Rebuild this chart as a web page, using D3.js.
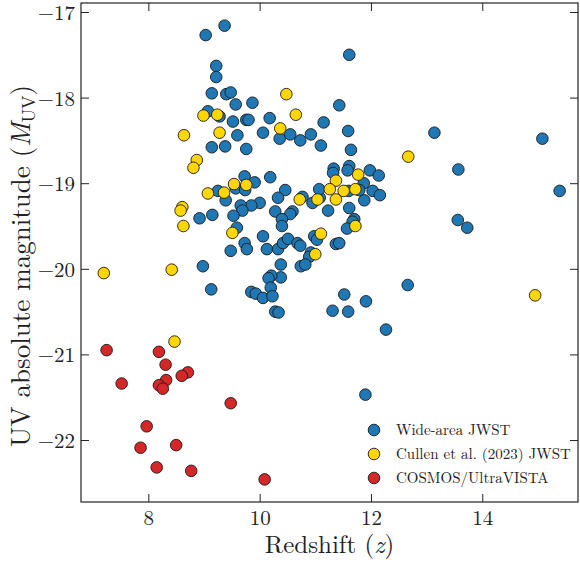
<!DOCTYPE html>
<html>
<head>
<meta charset="utf-8">
<script src="https://cdn.jsdelivr.net/npm/d3@7"></script>
<style>
  html, body { margin: 0; padding: 0; background: #fff; }
  svg text { font-family: "Latin Modern Roman", "CMU Serif", "Liberation Serif", serif; fill: #222; }
</style>
</head>
<body>
<div id="chart"></div>
<script>
// Wide-area JWST  [redshift, M_UV]
const wideArea = [
  [9.37,-17.16],[9.03,-17.27],[11.61,-17.50],[9.22,-17.63],[9.22,-17.76],[9.14,-17.95],
  [9.40,-17.96],[9.48,-17.94],[9.57,-18.08],[9.87,-18.06],[11.43,-18.09],[9.07,-18.16],
  [9.28,-18.22],[9.52,-18.28],[9.76,-18.26],[9.80,-18.26],[10.18,-18.24],[11.15,-18.29],
  [9.60,-18.44],[10.06,-18.41],[10.36,-18.48],[10.55,-18.43],[10.73,-18.50],[10.92,-18.43],
  [11.10,-18.56],[11.59,-18.39],[11.64,-18.61],[9.14,-18.58],[9.38,-18.57],[9.76,-18.60],
  [11.33,-18.83],[11.32,-18.88],[11.61,-18.80],[11.58,-18.85],[11.98,-18.85],[12.14,-18.91],
  [11.87,-19.00],[12.03,-19.09],[12.16,-19.14],[11.88,-19.20],[9.73,-18.92],[9.91,-18.99],
  [10.19,-18.93],[9.57,-19.06],[9.74,-19.08],[9.25,-19.09],[9.39,-19.20],[10.46,-19.08],
  [10.33,-19.17],[10.77,-19.16],[10.95,-19.23],[11.08,-19.17],[11.07,-19.07],[11.60,-19.09],
  [11.79,-19.08],[10.00,-19.23],[9.85,-19.26],[9.66,-19.26],[9.69,-19.32],[9.53,-19.38],
  [8.92,-19.41],[9.15,-19.37],[9.59,-19.52],[10.28,-19.33],[10.59,-19.33],[10.55,-19.36],
  [10.40,-19.42],[10.40,-19.50],[11.23,-19.32],[11.61,-19.29],[11.70,-19.42],[11.67,-19.45],
  [11.57,-19.53],[10.06,-19.62],[9.73,-19.70],[9.77,-19.77],[9.48,-19.79],[10.13,-19.77],
  [10.33,-19.77],[10.42,-19.70],[10.51,-19.65],[10.68,-19.70],[10.73,-19.73],[10.98,-19.62],
  [11.03,-19.66],[11.37,-19.71],[11.43,-19.70],[10.92,-19.81],[10.89,-19.86],[10.74,-19.97],
  [10.82,-19.95],[8.98,-19.97],[10.38,-19.95],[10.38,-20.10],[10.21,-20.08],[10.16,-20.11],
  [10.20,-20.22],[9.13,-20.24],[9.85,-20.27],[9.93,-20.29],[10.06,-20.34],[10.23,-20.32],
  [10.28,-20.50],[10.34,-20.51],[11.31,-20.49],[11.59,-20.50],[11.52,-20.30],[11.91,-20.38],
  [12.66,-20.19],[12.27,-20.71],[11.90,-21.47],[13.14,-18.41],[15.08,-18.48],[13.57,-18.84],
  [15.39,-19.09],[13.56,-19.43],[13.73,-19.52]
];

// Cullen et al. (2023) JWST
const cullen = [
  [10.48,-17.96],[10.65,-18.20],[8.99,-18.21],[9.24,-18.20],[9.28,-18.41],[10.37,-18.36],
  [8.64,-18.44],[8.87,-18.73],[8.81,-18.82],[11.77,-18.90],[11.37,-18.97],[11.26,-19.07],
  [11.51,-19.09],[11.72,-19.07],[9.54,-19.01],[9.76,-19.02],[9.07,-19.12],[9.36,-19.11],
  [10.72,-19.19],[11.04,-19.19],[11.37,-19.19],[8.61,-19.28],[8.58,-19.32],[8.63,-19.50],
  [9.51,-19.58],[11.72,-19.50],[11.10,-19.59],[11.00,-19.83],[7.20,-20.05],[8.42,-20.01],
  [8.47,-20.85],[12.67,-18.69],[14.95,-20.31]
];

// COSMOS/UltraVISTA
const cosmos = [
  [7.25,-20.95],[8.19,-20.97],[8.31,-21.12],[8.71,-21.21],[8.60,-21.25],[8.32,-21.30],
  [8.19,-21.36],[8.26,-21.40],[7.52,-21.34],[9.48,-21.57],[7.97,-21.84],[7.86,-22.09],
  [8.50,-22.06],[8.15,-22.32],[8.77,-22.36],[10.09,-22.46]
];

const seriesNames = ['Wide-area JWST', 'Cullen et al. (2023) JWST', 'COSMOS/UltraVISTA'];
const seriesColors = ['#1f77b4', '#ffd700', '#d62728'];
const xTicks = [8, 10, 12, 14];
const yTicks = [-17, -18, -19, -20, -21, -22];

const width = 580, height = 563;
const margin = { top: 3, right: 2, bottom: 61, left: 81 };
const innerW = width - margin.left - margin.right;
const innerH = height - margin.top - margin.bottom;

const svg = d3.select('#chart').append('svg')
  .attr('width', width)
  .attr('height', height);

const g = svg.append('g')
  .attr('transform', `translate(${margin.left},${margin.top})`);

const x = d3.scaleLinear().domain([6.79, 15.72]).range([0, innerW]);
const y = d3.scaleLinear().domain([-16.895, -22.724]).range([0, innerH]);

const fmt = d => (d < 0 ? '\u2212' + Math.abs(d) : d);
const tickLen = 8;

// axes with inward ticks on all four sides
const xAxis = g.append('g').attr('transform', `translate(0,${innerH})`)
  .call(d3.axisBottom(x).tickValues(xTicks).tickFormat(fmt).tickSizeInner(-tickLen).tickSizeOuter(0).tickPadding(8));
const xTop = g.append('g')
  .call(d3.axisTop(x).tickValues(xTicks).tickFormat('').tickSizeInner(-tickLen).tickSizeOuter(0));
const yAxis = g.append('g')
  .call(d3.axisLeft(y).tickValues(yTicks).tickFormat(fmt).tickSizeInner(-tickLen).tickSizeOuter(0).tickPadding(6));
const yRight = g.append('g').attr('transform', `translate(${innerW},0)`)
  .call(d3.axisRight(y).tickValues(yTicks).tickFormat('').tickSizeInner(-tickLen).tickSizeOuter(0));

[xAxis, xTop, yAxis, yRight].forEach(a => {
  a.select('.domain').remove();
  a.selectAll('.tick line').attr('stroke', '#222').attr('stroke-width', 1);
});
xAxis.selectAll('.tick text').style('font-size', '21px').attr('fill', '#222');
yAxis.selectAll('.tick text').style('font-size', '21px').attr('fill', '#222').attr('dy', '0.36em');

// frame
g.append('rect')
  .attr('width', innerW).attr('height', innerH)
  .attr('fill', 'none').attr('stroke', '#222').attr('stroke-width', 1.2);

// points
const allSeries = [wideArea, cullen, cosmos];
allSeries.forEach((data, i) => {
  g.append('g').selectAll('circle')
    .data(data)
    .join('circle')
    .attr('cx', d => x(d[0]))
    .attr('cy', d => y(d[1]))
    .attr('r', 5.8)
    .attr('fill', seriesColors[i])
    .attr('stroke', '#1a1a1a')
    .attr('stroke-width', 0.9);
});

// axis labels
svg.append('text')
  .attr('x', margin.left + innerW / 2)
  .attr('y', 553)
  .attr('text-anchor', 'middle')
  .style('font-size', '25px')
  .html('Redshift (<tspan font-style="italic">z</tspan>)');

svg.append('text')
  .attr('transform', 'translate(30,266) rotate(-90)')
  .attr('text-anchor', 'middle')
  .style('font-size', '27px')
  .html('UV absolute magnitude (<tspan font-style="italic">M</tspan><tspan font-size="18px" dy="5">UV</tspan><tspan dy="-5">)</tspan>');

// legend
const legend = svg.append('g').attr('transform', 'translate(374,430)');
seriesNames.forEach((name, i) => {
  const row = legend.append('g').attr('transform', `translate(0,${i * 24})`);
  row.append('circle')
    .attr('r', 5.8)
    .attr('fill', seriesColors[i])
    .attr('stroke', '#1a1a1a')
    .attr('stroke-width', 0.9);
  row.append('text')
    .attr('x', 22)
    .attr('y', 5)
    .style('font-size', '15px')
    .text(name);
});
</script>
</body>
</html>
